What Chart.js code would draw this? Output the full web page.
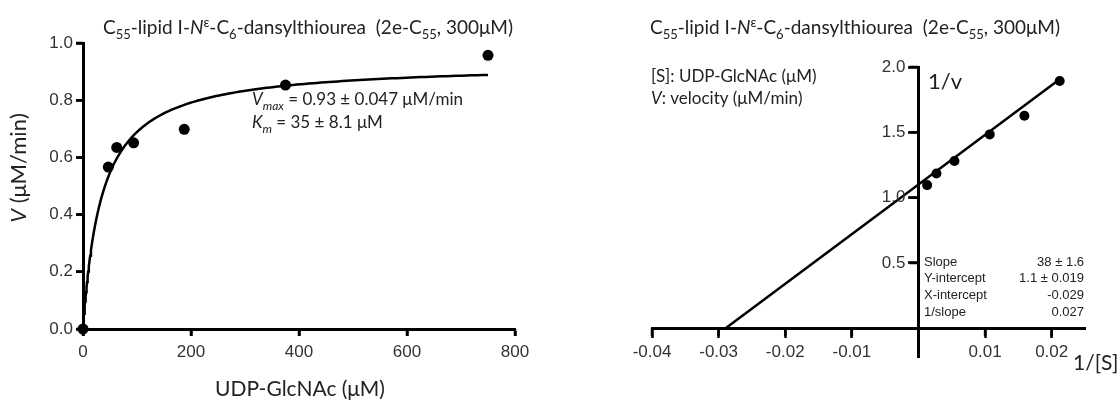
<!DOCTYPE html>
<html>
<head>
<meta charset="utf-8">
<script src="https://cdn.jsdelivr.net/npm/chart.js@4.4.0/dist/chart.umd.min.js"></script>
<style>
  html, body { margin: 0; padding: 0; background: #fff; }
  #wrap { position: relative; width: 1120px; height: 400px; }
  canvas { position: absolute; top: 0; }
  #mmChart { left: 0; }
  #lbChart { left: 560px; }
</style>
</head>
<body>
<div id="wrap">
  <canvas id="mmChart" width="560" height="400"></canvas>
  <canvas id="lbChart" width="560" height="400"></canvas>
</div>
<script>
// Michaelis-Menten: UDP-GlcNAc (uM) vs initial velocity (uM/min)
const substrate = [0, 46.875, 62.5, 93.75, 187.5, 375, 750];
const velocity = [0, 0.566, 0.635, 0.651, 0.698, 0.853, 0.957];
const vmax = 0.93;
const km = 35;
const mmXTicks = [0, 200, 400, 600, 800];
const mmYTicks = [0, 0.2, 0.4, 0.6, 0.8, 1.0];

// Lineweaver-Burk: 1/[S] vs 1/v
const invS = [0.0013, 0.0027, 0.0054, 0.0107, 0.0159, 0.0212];
const invV = [1.096, 1.185, 1.28, 1.484, 1.627, 1.893];
const lbSlope = 38;
const lbYInt = 1.1;
const lbXInt = -0.029;
const lbXTicks = [-0.04, -0.03, -0.02, -0.01, 0.01, 0.02];
const lbYTicks = [0.5, 1.0, 1.5, 2.0];
const statNames = ['Slope', 'Y-intercept', 'X-intercept', '1/slope'];
const statValues = ['38 \u00b1 1.6', '1.1 \u00b1 0.019', '-0.029', '0.027'];

const SANS = "Lato, 'Noto Sans', sans-serif";
const TICK = "'Liberation Sans', Arial, sans-serif";
const INK = '#222';
const TICK_INK = '#333';

const titleParts = [
    ['C', ''], ['55', 'sub'], ['-lipid I-', ''], ['N', 'i'], ['\u03b5', 'sup'],
    ['-C', ''], ['6', 'sub'], ['-dansylthiourea  (2e-C', ''], ['55', 'sub'], [', 300\u03bcM)', '']
];

// draws a run of text pieces with italic / sub / superscript styling
function drawRich(ctx, parts, x, y, size, align) {
    const fontFor = (s) => {
        const italic = s.indexOf('i') === 0 ? 'italic ' : '';
        const small = /sub|sup/.test(s) ? Math.round(size * 0.68) : size;
        return italic + small + 'px ' + SANS;
    };
    let w = 0;
    parts.forEach(([t, s]) => { ctx.font = fontFor(s); w += ctx.measureText(t).width; });
    let cx = align === 'center' ? x - w / 2 : (align === 'right' ? x - w : x);
    ctx.textAlign = 'left';
    ctx.textBaseline = 'alphabetic';
    parts.forEach(([t, s]) => {
        ctx.font = fontFor(s);
        let dy = 0;
        if (/sub/.test(s)) dy = size * 0.28;
        if (/sup/.test(s)) dy = -size * 0.38;
        ctx.fillText(t, cx, y + dy);
        cx += ctx.measureText(t).width;
    });
}

// short black tick marks on the outside of each axis line
function drawTickMarks(chart, xLen, yLen) {
    const ctx = chart.ctx;
    const xs = chart.scales.x;
    const ys = chart.scales.y;
    const xAxisY = Math.max(chart.chartArea.top, Math.min(chart.chartArea.bottom, ys.getPixelForValue(0)));
    const yAxisX = Math.max(chart.chartArea.left, Math.min(chart.chartArea.right, xs.getPixelForValue(0)));
    ctx.save();
    ctx.strokeStyle = '#000';
    ctx.lineWidth = 2.5;
    ctx.beginPath();
    xs.ticks.forEach(t => {
        const px = xs.getPixelForValue(t.value);
        ctx.moveTo(px, xAxisY);
        ctx.lineTo(px, xAxisY + xLen);
    });
    ys.ticks.forEach(t => {
        const py = ys.getPixelForValue(t.value);
        ctx.moveTo(yAxisX, py);
        ctx.lineTo(yAxisX - yLen, py);
    });
    ctx.stroke();
    ctx.restore();
    return { xAxisY, yAxisX };
}

const axisGrid = (len) => ({
    drawOnChartArea: false, drawTicks: true, tickLength: len, tickWidth: 2.5, color: '#000'
});
const axisBorder = { display: true, color: '#000', width: 3 };
const tickFont = { family: TICK, size: 17 };

// fitted hyperbola from Vmax / Km
const curve = [];
for (let i = 0; i <= 150; i++) {
    const s = 750 * Math.pow(i / 150, 2);
    curve.push({ x: s, y: vmax * s / (km + s) });
}

const mmText = {
    id: 'mmText',
    afterDraw(chart) {
        drawTickMarks(chart, 7, 7);
        const ctx = chart.ctx;
        ctx.save();
        ctx.fillStyle = INK;
        drawRich(ctx, titleParts, 103, 34, 19, 'left');
        drawRich(ctx, [['V', 'i'], ['max', 'isub'], [' = 0.93 \u00b1 0.047 \u03bcM/min', '']], 252, 105, 17, 'left');
        drawRich(ctx, [['K', 'i'], ['m', 'isub'], [' = 35 \u00b1 8.1 \u03bcM', '']], 252, 128, 17, 'left');
        drawRich(ctx, [['UDP-GlcNAc (\u03bcM)', '']], 300, 396, 21, 'center');
        ctx.translate(26, 168);
        ctx.rotate(-Math.PI / 2);
        drawRich(ctx, [['V', 'i'], [' (\u03bcM/min)', '']], 0, 0, 22, 'center');
        ctx.restore();
    }
};

new Chart('mmChart', {
    type: 'scatter',
    data: {
        datasets: [{
            data: substrate.map((s, i) => ({ x: s, y: velocity[i] })),
            pointRadius: 5.5,
            pointBackgroundColor: '#000',
            pointBorderWidth: 0,
            clip: false,
            order: 0
        }, {
            data: curve,
            showLine: true,
            pointRadius: 0,
            borderColor: '#000',
            borderWidth: 2.5,
            clip: false,
            order: 1
        }]
    },
    options: {
        responsive: false,
        animation: false,
        devicePixelRatio: 1,
        layout: { padding: { top: 43, right: 45, left: 0, bottom: 0 } },
        plugins: { legend: { display: false }, tooltip: { enabled: false } },
        scales: {
            x: {
                type: 'linear', min: 0, max: 800,
                afterBuildTicks: s => { s.ticks = mmXTicks.map(v => ({ value: v })); },
                afterFit: s => { s.height = 71; },
                grid: axisGrid(7),
                border: axisBorder,
                ticks: { color: TICK_INK, font: tickFont, padding: 6, maxRotation: 0, callback: v => String(v) }
            },
            y: {
                type: 'linear', min: 0, max: 1.0,
                afterBuildTicks: s => { s.ticks = mmYTicks.map(v => ({ value: v })); },
                afterFit: s => { s.width = 83; },
                grid: axisGrid(7),
                border: axisBorder,
                ticks: { color: TICK_INK, font: tickFont, padding: 3, callback: v => v.toFixed(1) }
            }
        }
    },
    plugins: [mmText]
});

const lbText = {
    id: 'lbText',
    afterDraw(chart) {
        const axes = drawTickMarks(chart, 8, 9);
        const ctx = chart.ctx;
        ctx.save();
        // value labels for the y axis that sits at x = 0
        const ys = chart.scales.y;
        ctx.fillStyle = TICK_INK;
        ctx.font = '17px ' + TICK;
        ctx.textAlign = 'right';
        ctx.textBaseline = 'middle';
        ys.ticks.forEach(t => {
            ctx.fillText(t.value.toFixed(1), axes.yAxisX - 13, ys.getPixelForValue(t.value));
        });
        ctx.fillStyle = INK;
        drawRich(ctx, titleParts, 90, 34, 19, 'left');
        drawRich(ctx, [['[S]: UDP-GlcNAc (\u03bcM)', '']], 91, 82, 17, 'left');
        drawRich(ctx, [['V', 'i'], [': velocity (\u03bcM/min)', '']], 91, 104, 17, 'left');
        drawRich(ctx, [['1/v', '']], 368, 89, 22, 'left');
        drawRich(ctx, [['1/[S]', '']], 513, 370, 21, 'left');
        ctx.font = '13px ' + TICK;
        ctx.textBaseline = 'middle';
        statNames.forEach((n, i) => {
            const y = 262 + i * 16.8;
            ctx.textAlign = 'left';
            ctx.fillText(n, 364, y);
            ctx.textAlign = 'right';
            ctx.fillText(statValues[i], 524, y);
        });
        ctx.restore();
    }
};

const lbEnd = invS[invS.length - 1];

new Chart('lbChart', {
    type: 'scatter',
    data: {
        datasets: [{
            data: invS.map((s, i) => ({ x: s, y: invV[i] })),
            pointRadius: 5,
            pointBackgroundColor: '#000',
            pointBorderWidth: 0,
            clip: false,
            order: 0
        }, {
            data: [{ x: lbXInt, y: lbYInt + lbSlope * lbXInt }, { x: lbEnd, y: lbYInt + lbSlope * lbEnd }],
            showLine: true,
            pointRadius: 0,
            borderColor: '#000',
            borderWidth: 2.5,
            clip: false,
            order: 1
        }]
    },
    options: {
        responsive: false,
        animation: false,
        devicePixelRatio: 1,
        layout: { padding: { top: 67, right: 35, left: 92, bottom: 43 } },
        plugins: { legend: { display: false }, tooltip: { enabled: false } },
        scales: {
            x: {
                type: 'linear', min: -0.04, max: 0.025,
                position: { y: 0 },
                afterBuildTicks: s => { s.ticks = lbXTicks.map(v => ({ value: v })); },
                grid: axisGrid(8),
                border: axisBorder,
                ticks: { color: TICK_INK, font: tickFont, padding: 6, maxRotation: 0, callback: v => String(v) }
            },
            y: {
                type: 'linear', min: -0.22, max: 2.0,
                position: { x: 0 },
                afterBuildTicks: s => { s.ticks = lbYTicks.map(v => ({ value: v })); },
                grid: axisGrid(9),
                border: axisBorder,
                ticks: { display: false }
            }
        }
    },
    plugins: [lbText]
});
</script>
</body>
</html>
